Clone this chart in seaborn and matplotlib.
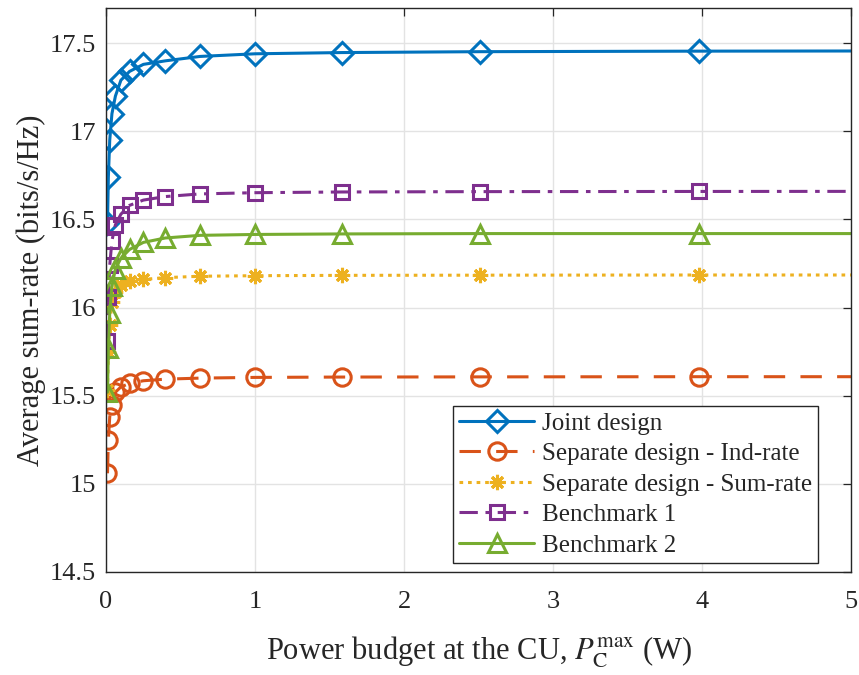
import numpy as np
import pandas as pd
import matplotlib
matplotlib.use("Agg")
import matplotlib.pyplot as plt
import seaborn as sns

# Power budget at the CU (W)
power = [0.01, 0.0158, 0.0251, 0.0398, 0.0631, 0.1, 0.158, 0.251, 0.398,
         0.631, 1.0, 1.585, 2.512, 3.981, 6.31]

joint = [16.48, 16.74, 16.95, 17.10, 17.20, 17.29, 17.34, 17.38, 17.40,
         17.425, 17.44, 17.447, 17.452, 17.455, 17.457]
sep_ind = [15.06, 15.25, 15.38, 15.45, 15.52, 15.55, 15.57, 15.585, 15.594,
           15.60, 15.604, 15.606, 15.607, 15.608, 15.608]
sep_sum = [15.53, 15.75, 15.90, 16.03, 16.09, 16.13, 16.15, 16.16, 16.17,
           16.178, 16.181, 16.183, 16.184, 16.185, 16.185]
bench1 = [15.81, 16.06, 16.24, 16.38, 16.47, 16.53, 16.58, 16.61, 16.63,
          16.645, 16.652, 16.656, 16.658, 16.659, 16.66]
bench2 = [15.52, 15.77, 15.97, 16.12, 16.22, 16.28, 16.33, 16.37, 16.395,
          16.41, 16.415, 16.418, 16.42, 16.42, 16.42]

labels = ["Joint design", "Separate design - Ind-rate",
          "Separate design - Sum-rate", "Benchmark 1", "Benchmark 2"]
series = [joint, sep_ind, sep_sum, bench1, bench2]

styles = [
    dict(color="#0072BD", linestyle="-", marker="D", ms=11),
    dict(color="#D95319", linestyle=(0, (7, 5)), marker="o", ms=12.5),
    dict(color="#EDB120", linestyle=(0, (1.2, 1.6)), marker=(8, 2, 0), ms=11),
    dict(color="#7E2F8E", linestyle=(0, (6, 2.5, 1.5, 2.5)), marker="s", ms=9.5),
    dict(color="#77AC30", linestyle="-", marker="^", ms=13),
]

sns.set_theme(style="whitegrid")
plt.rcParams["font.family"] = ["Liberation Serif", "DejaVu Serif"]
plt.rcParams["mathtext.fontset"] = "stix"

fig = plt.figure(figsize=(8.59, 6.75), dpi=100)
ax = fig.add_axes([0.1234, 0.1526, 0.8673, 0.8356])

for lab, vals, st in zip(labels, series, styles):
    df = pd.DataFrame({"P": power, "R": vals})
    sns.lineplot(data=df, x="P", y="R", ax=ax, label=lab,
                 color=st["color"], linestyle=st["linestyle"],
                 marker=st["marker"], markersize=st["ms"],
                 markerfacecolor="none", markeredgecolor=st["color"],
                 markeredgewidth=2.2, linewidth=2.2, sort=False)

ax.set_xlim(0, 5)
ax.set_ylim(14.5, 17.7)
ax.set_xticks([0, 1, 2, 3, 4, 5])
ax.set_yticks([14.5, 15, 15.5, 16, 16.5, 17, 17.5])
ax.set_yticklabels(["14.5", "15", "15.5", "16", "16.5", "17", "17.5"])

ax.set_facecolor("white")
ax.grid(True, color="#e3e3e3", linewidth=1.0)
for sp in ax.spines.values():
    sp.set_visible(True)
    sp.set_color("#262626")
    sp.set_linewidth(1.0)

ax.tick_params(axis="both", direction="in", length=6, width=0.9,
               colors="#262626", labelsize=19, top=True, right=True,
               labelcolor="#262626")
ax.tick_params(axis="x", pad=14)
ax.tick_params(axis="y", pad=7)

ax.set_xlabel(r"Power budget at the CU, $P_{\mathrm{C}}^{\max}$ (W)",
              fontsize=22, color="#262626", labelpad=15)
ax.set_ylabel("Average sum-rate (bits/s/Hz)", fontsize=22, color="#262626",
              labelpad=3)

leg = ax.legend(loc="lower right", bbox_to_anchor=(0.9557, 0.016),
                fontsize=18, frameon=True, fancybox=False,
                handlelength=3.0, handletextpad=0.3, borderpad=0.25,
                labelspacing=0.32, borderaxespad=0.0)
leg.get_frame().set_edgecolor("#262626")
leg.get_frame().set_linewidth(1.0)
leg.get_frame().set_alpha(1.0)

fig.savefig("out.png", dpi=100, facecolor="white")
